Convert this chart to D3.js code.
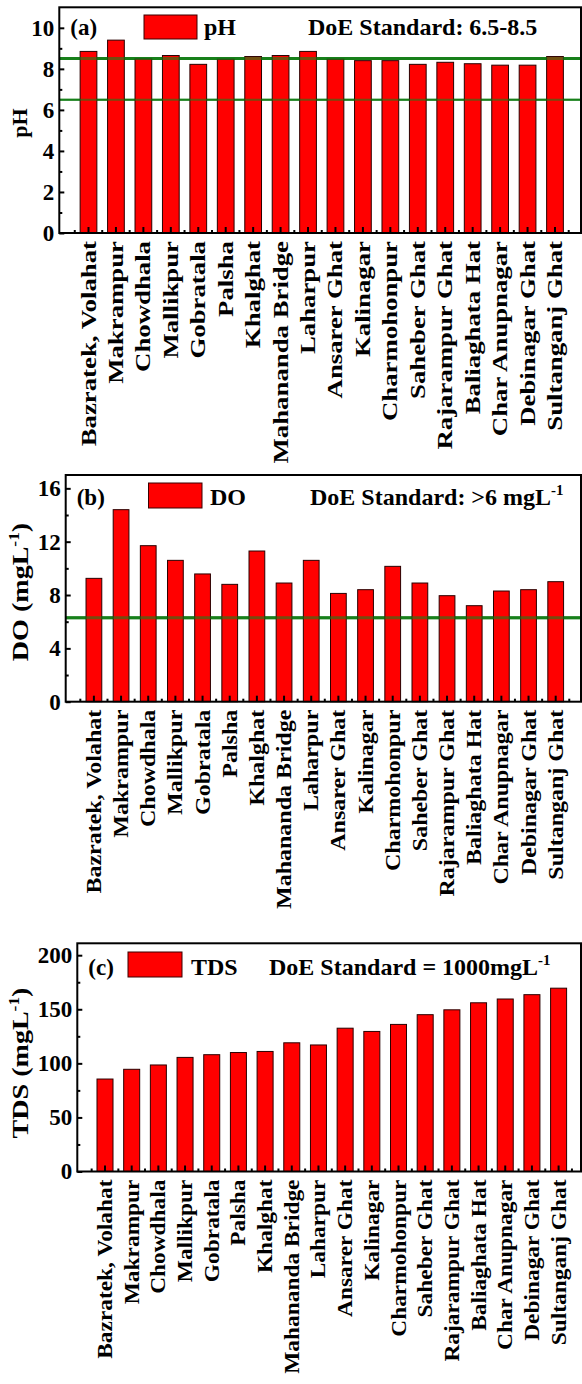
<!DOCTYPE html>
<html>
<head>
<meta charset="utf-8">
<script src="https://cdn.jsdelivr.net/npm/d3@7"></script>
<style>
  body { margin: 0; background: #fff; }
  svg text { font-family: "Liberation Serif", "Times New Roman", serif; font-weight: bold; fill: #000; }
</style>
</head>
<body>
<script>
// sampling sites, same order in all three panels
let sites = ['Bazratek, Volahat', 'Makrampur', 'Chowdhala', 'Mallikpur', 'Gobratala', 'Palsha',
  'Khalghat', 'Mahananda Bridge', 'Laharpur', 'Ansarer Ghat', 'Kalinagar', 'Charmohonpur',
  'Saheber Ghat', 'Rajarampur Ghat', 'Baliaghata Hat', 'Char Anupnagar', 'Debinagar Ghat', 'Sultanganj Ghat'];

let phValues  = [8.85, 9.4, 8.48, 8.65, 8.22, 8.47, 8.6, 8.65, 8.85, 8.47, 8.4, 8.4, 8.22, 8.32, 8.25, 8.18, 8.18, 8.6];
let doValues  = [9.25, 14.4, 11.7, 10.6, 9.58, 8.8, 11.3, 8.9, 10.6, 8.12, 8.4, 10.15, 8.9, 7.95, 7.2, 8.3, 8.4, 9.0];
let tdsValues = [85.5, 94.5, 98.5, 105.5, 108, 110, 111, 119, 117, 132.5, 129.5, 136, 145, 149.5, 156, 159.5, 163.5, 169.5];

// axis ticks
let phTicks  = [0, 2, 4, 6, 8, 10];
let doTicks  = [0, 4, 8, 12, 16];
let tdsTicks = [0, 50, 100, 150, 200];

// standard lines
let phLimits = [6.5, 8.5];
let doLimits = [6.3];

let width = 582, height = 1384;

let svg = d3.select('body')
  .append('svg')
  .attr('width', width)
  .attr('height', height);

let panels = [
  { tag: '(a)', values: phValues, ticks: phTicks, yMax: 11, limits: phLimits, legend: 'pH',
    title: ['pH'], std: ['DoE Standard: 6.5-8.5'],
    left: 59.3, right: 581, top: 7.3, bottom: 233, c0: 88.5, c1: 555, pad: 0.39,
    base: 35, box: [144, 15, 53, 24], legendX: 204, stdX: 308,
    titleX: 19, titleY: 123, titleSize: 22, titleStretch: 1, siteStretch: 1.34 },
  { tag: '(b)', values: doValues, ticks: doTicks, yMax: 17, limits: doLimits, legend: 'DO',
    title: ['DO (mgL', '-1', ')'], std: ['DoE Standard: >6 mgL', '-1'],
    left: 65.7, right: 581, top: 475, bottom: 701.7, c0: 93.9, c1: 555.7, pad: 0.42,
    base: 505, box: [148.5, 483, 53.5, 25], legendX: 210, stdX: 310,
    titleX: 20, titleY: 592, titleSize: 24, titleStretch: 1.17, siteStretch: 1.2 },
  { tag: '(c)', values: tdsValues, ticks: tdsTicks, yMax: 211, limits: [], legend: 'TDS',
    title: ['TDS (mgL', '-1', ')'], std: ['DoE Standard = 1000mgL', '-1'],
    left: 77.3, right: 581, top: 943.3, bottom: 1171.5, c0: 105, c1: 558.6, pad: 0.40,
    base: 975, box: [128, 952, 54, 25], legendX: 191, stdX: 269,
    titleX: 20, titleY: 1063, titleSize: 24, titleStretch: 1.17, siteStretch: 1.17 }
];

let green = '#17801a';

// writes text parts, the middle part as superscript
function writeParts(sel, parts, size) {
  parts.forEach((p, i) => {
    let t = sel.append('tspan').text(p);
    if (i == 1) t.attr('dy', -size * 0.4).style('font-size', (size * 0.62) + 'px');
    if (i == 2) t.attr('dy', size * 0.4);
  });
}

panels.forEach(p => {
  let g = svg.append('g');
  let step = (p.c1 - p.c0) / (sites.length - 1);

  let x = d3.scaleBand()
    .domain(sites)
    .range([p.c0 - step / 2, p.c1 + step / 2])
    .paddingInner(p.pad)
    .paddingOuter(p.pad / 2);

  let y = d3.scaleLinear()
    .domain([0, p.yMax])
    .range([p.bottom, p.top]);

  let line = (sel, v, op) => sel.append('line')
    .attr('x1', p.left).attr('x2', p.right)
    .attr('y1', y(v)).attr('y2', y(v))
    .attr('stroke', green)
    .attr('stroke-width', v == 6.5 ? 2 : 3)
    .attr('opacity', op);

  // standard lines under the bars
  p.limits.forEach(v => line(g, v, 1));

  g.selectAll('rect.bar')
    .data(p.values)
    .enter()
    .append('rect')
    .attr('class', 'bar')
    .attr('x', (d, i) => x(sites[i]))
    .attr('y', d => y(d))
    .attr('width', x.bandwidth())
    .attr('height', d => p.bottom - y(d))
    .attr('fill', '#ff0000')
    .attr('stroke', '#2a0000')
    .attr('stroke-width', 1);

  // and again on top, see-through, so they show over the bars
  p.limits.forEach(v => line(g, v, 0.6));

  // y axis, inward ticks
  let minor = d3.pairs(p.ticks).map(([a, b]) => (a + b) / 2);
  let yAxis = g.append('g')
    .attr('transform', `translate(${p.left},0)`)
    .call(d3.axisLeft(y).tickValues(p.ticks).tickSize(-5).tickPadding(5));
  yAxis.select('.domain').remove();
  yAxis.selectAll('line').attr('stroke-width', 2);
  yAxis.selectAll('text').style('font-size', '23px').attr('fill', '#000');

  let yMinor = g.append('g')
    .attr('transform', `translate(${p.left},0)`)
    .call(d3.axisLeft(y).tickValues(minor).tickSize(-3).tickFormat(''));
  yMinor.select('.domain').remove();
  yMinor.selectAll('line').attr('stroke-width', 2);

  // x axis, major ticks at bars, minor ones between
  let xAxis = g.append('g')
    .attr('transform', `translate(0,${p.bottom})`)
    .call(d3.axisBottom(x).tickSize(-6).tickFormat(''));
  xAxis.select('.domain').remove();
  xAxis.selectAll('line').attr('stroke-width', 2);

  let edges = sites.map(s => x(s) + x.bandwidth() / 2 - step / 2).concat([x(sites[sites.length - 1]) + x.bandwidth() / 2 + step / 2]);
  g.selectAll('line.xminor')
    .data(edges)
    .enter()
    .append('line')
    .attr('x1', d => d).attr('x2', d => d)
    .attr('y1', p.bottom).attr('y2', p.bottom - 3)
    .attr('stroke', '#000')
    .attr('stroke-width', 2);

  g.selectAll('text.site')
    .data(sites)
    .enter()
    .append('text')
    .attr('class', 'site')
    .attr('transform', d => `translate(${x(d) + x.bandwidth() / 2},${p.bottom + 8}) rotate(-90) scale(${p.siteStretch},1)`)
    .attr('text-anchor', 'end')
    .attr('dy', '0.35em')
    .style('font-size', '20px')
    .text(d => d);

  // frame
  g.append('rect')
    .attr('x', p.left).attr('y', p.top)
    .attr('width', p.right - p.left).attr('height', p.bottom - p.top)
    .attr('fill', 'none')
    .attr('stroke', '#000')
    .attr('stroke-width', 2);

  // y title
  let title = g.append('text')
    .attr('transform', `translate(${p.titleX},${p.titleY}) rotate(-90) scale(${p.titleStretch},1)`)
    .attr('text-anchor', 'middle')
    .attr('dy', '0.35em')
    .style('font-size', p.titleSize + 'px');
  writeParts(title, p.title, p.titleSize);

  // panel tag and legend
  g.append('text')
    .attr('x', p.left + 11).attr('y', p.base)
    .style('font-size', '23px')
    .text(p.tag);

  g.append('rect')
    .attr('x', p.box[0]).attr('y', p.box[1])
    .attr('width', p.box[2]).attr('height', p.box[3])
    .attr('fill', '#ff0000')
    .attr('stroke', '#3a0000')
    .attr('stroke-width', 1);

  g.append('text')
    .attr('x', p.legendX).attr('y', p.base)
    .style('font-size', '24px')
    .text(p.legend);

  let std = g.append('text')
    .attr('x', p.stdX).attr('y', p.base)
    .style('font-size', '24px');
  writeParts(std, p.std, 24);
});
</script>
</body>
</html>
